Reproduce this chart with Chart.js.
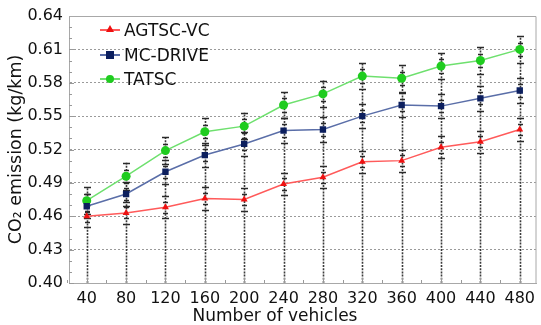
<!DOCTYPE html>
<html lang="en">
<head>
  <meta charset="UTF-8" />
  <title>CO2 emission vs number of vehicles</title>
  <script src="https://cdn.jsdelivr.net/npm/chart.js"></script>
  <style>
    body { margin: 0; background: #fff; }
    #wrap { position: relative; width: 541px; height: 325px; }
    #legend { position: absolute; left: 100px; top: 18px; font: 17px "DejaVu Sans", sans-serif; color: #111; }
    .row { display: flex; align-items: center; height: 24.5px; }
    .key { position: relative; width: 20px; height: 10px; margin-right: 4px; }
    .key .ln { position: absolute; left: 0; right: 0; top: 4px; height: 2px; }
    .key .mk { position: absolute; left: 6px; top: 1px; width: 8px; height: 8px; }
  </style>
</head>
<body>
  <div id="wrap">
    <canvas id="chart" width="541" height="325"></canvas>
    <div id="legend"></div>
  </div>

  <script>
    // data
    const vehicles = [40, 80, 120, 160, 200, 240, 280, 320, 360, 400, 440, 480];
    const agtscVc = [0.460, 0.463, 0.468, 0.476, 0.475, 0.489, 0.495, 0.509, 0.510, 0.522, 0.527, 0.538];
    const mcDrive = [0.469, 0.480, 0.500, 0.515, 0.525, 0.537, 0.538, 0.550, 0.560, 0.559, 0.566, 0.573];
    const tatsc = [0.474, 0.496, 0.519, 0.536, 0.541, 0.560, 0.570, 0.586, 0.584, 0.595, 0.600, 0.610];
    const agtscErr = [0.010, 0.010, 0.010, 0.010, 0.010, 0.010, 0.010, 0.010, 0.010, 0.010, 0.010, 0.010];
    const mcErr = [0.011, 0.011, 0.011, 0.011, 0.011, 0.011, 0.011, 0.011, 0.011, 0.011, 0.011, 0.011];
    const tatscErr = [0.012, 0.012, 0.012, 0.012, 0.012, 0.012, 0.012, 0.012, 0.012, 0.012, 0.012, 0.012];
    const yTicks = [0.40, 0.43, 0.46, 0.49, 0.52, 0.55, 0.58, 0.61, 0.64];
    const xTitle = "Number of vehicles";

    const series = [
      { label: "AGTSC-VC", values: agtscVc, err: agtscErr, line: "#ff5a5a", marker: "#ee1111", style: "triangle", radius: 4 },
      { label: "MC-DRIVE", values: mcDrive, err: mcErr, line: "#5a6ea8", marker: "#0c1f5e", style: "rect", radius: 4.5 },
      { label: "TATSC", values: tatsc, err: tatscErr, line: "#6ee06e", marker: "#1fcc1f", style: "circle", radius: 4.5 },
    ];

    const font = "'DejaVu Sans', sans-serif";

    // dotted vertical error lines with caps, under the lines
    const errorBars = {
      id: "errorBars",
      beforeDatasetsDraw(chart) {
        const { ctx, chartArea, scales: { x, y } } = chart;
        ctx.save();
        vehicles.forEach((v, i) => {
          const px = Math.round(x.getPixelForValue(v)) + 0.5;
          const hi = Math.max(...series.map(s => s.values[i] + s.err[i]));
          ctx.strokeStyle = "#3a3a3a";
          ctx.lineWidth = 1.6;
          ctx.setLineDash([2, 1.2]);
          ctx.beginPath();
          ctx.moveTo(px, chartArea.bottom);
          ctx.lineTo(px, y.getPixelForValue(hi));
          ctx.stroke();
          ctx.setLineDash([]);
          ctx.strokeStyle = "#2a2a2a";
          ctx.lineWidth = 1.5;
          series.forEach(s => {
            [-1, -0.5, 0.5, 1].forEach(d => {
              const py = Math.round(y.getPixelForValue(s.values[i] + d * s.err[i])) + 0.5;
              const w = Math.abs(d) === 1 ? 3.5 : 2.5;
              ctx.beginPath();
              ctx.moveTo(px - w, py);
              ctx.lineTo(px + w, py);
              ctx.stroke();
            });
          });
        });
        ctx.restore();
      },
    };

    // top/right frame, inward tick marks, x title (centred on the figure, not the plot)
    const frame = {
      id: "frame",
      afterDraw(chart) {
        const { ctx, chartArea: a, scales: { x, y } } = chart;
        ctx.save();
        ctx.strokeStyle = "#a8a8a8";
        ctx.lineWidth = 1;
        ctx.beginPath();
        ctx.moveTo(a.left, a.top + 0.5);
        ctx.lineTo(a.right - 0.5, a.top + 0.5);
        ctx.lineTo(a.right - 0.5, a.bottom);
        ctx.stroke();
        ctx.strokeStyle = "#999";
        ctx.beginPath();
        vehicles.forEach(v => {
          const px = Math.round(x.getPixelForValue(v)) + 0.5;
          ctx.moveTo(px, a.bottom);
          ctx.lineTo(px, a.bottom - 5);
          const mx = Math.round(x.getPixelForValue(v - 20)) + 0.5;
          ctx.moveTo(mx, a.bottom);
          ctx.lineTo(mx, a.bottom - 3);
        });
        for (let k = 0; k < yTicks.length - 1; k++) {
          for (let j = 0; j < 3; j++) {
            const py = Math.round(y.getPixelForValue(yTicks[k] + j * 0.01)) + 0.5;
            ctx.moveTo(a.left, py);
            ctx.lineTo(a.left + (j === 0 ? 5 : 3), py);
          }
        }
        ctx.stroke();
        ctx.fillStyle = "#111";
        ctx.font = "17px " + font;
        ctx.textAlign = "center";
        ctx.textBaseline = "middle";
        ctx.fillText(xTitle, 275, 317);
        ctx.restore();
      },
    };

    const ctx = document.getElementById("chart").getContext("2d");
    const chart = new Chart(ctx, {
      type: "line",
      data: {
        datasets: series.map(s => ({
          label: s.label,
          data: vehicles.map((v, i) => ({ x: v, y: s.values[i] })),
          borderColor: s.line,
          borderWidth: 1.5,
          backgroundColor: s.marker,
          pointBackgroundColor: s.marker,
          pointBorderColor: s.marker,
          pointStyle: s.style,
          pointRadius: s.radius,
          pointBorderWidth: 0,
          tension: 0,
        })),
      },
      options: {
        responsive: false,
        animation: false,
        layout: { padding: { top: 16, right: 1 } },
        plugins: { legend: { display: false }, tooltip: { enabled: false } },
        scales: {
          x: {
            type: "linear",
            min: 22,
            max: 497,
            afterBuildTicks: axis => { axis.ticks = vehicles.map(v => ({ value: v })); },
            afterFit: axis => { axis.height = 42; },
            grid: { display: false },
            border: { color: "#a8a8a8" },
            ticks: { color: "#111", padding: 0, maxRotation: 0, font: { family: font, size: 16, lineHeight: 1 } },
            title: { display: false },
          },
          y: {
            min: 0.40,
            max: 0.64,
            afterBuildTicks: axis => { axis.ticks = yTicks.map(v => ({ value: v })); },
            afterFit: axis => { axis.width = 69; },
            grid: { color: "#9a9a9a", tickLength: 0, drawTicks: false },
            border: { color: "#a8a8a8", dash: [2, 2] },
            ticks: { color: "#111", padding: 6, callback: v => v.toFixed(2), font: { family: font, size: 16 } },
            title: {
              display: true,
              text: "CO₂ emission (kg/km)",
              color: "#111",
              padding: { top: 8, bottom: 0 },
              font: { family: font, size: 17.5, lineHeight: 1 },
            },
          },
        },
      },
      plugins: [errorBars, frame],
    });

    // legend inside the plot, line with marker
    const legend = document.getElementById("legend");
    series.forEach(s => {
      let mk;
      if (s.style === "triangle") {
        mk = `<span class="mk" style="width:0;height:0;left:6px;top:0;border-left:4px solid transparent;border-right:4px solid transparent;border-bottom:7px solid ${s.marker};"></span>`;
      } else if (s.style === "rect") {
        mk = `<span class="mk" style="background:${s.marker};"></span>`;
      } else {
        mk = `<span class="mk" style="background:${s.marker};border-radius:50%;"></span>`;
      }
      const row = document.createElement("div");
      row.className = "row";
      row.innerHTML = `<span class="key"><span class="ln" style="background:${s.line};"></span>${mk}</span><span>${s.label}</span>`;
      legend.appendChild(row);
    });
  </script>
</body>
</html>
